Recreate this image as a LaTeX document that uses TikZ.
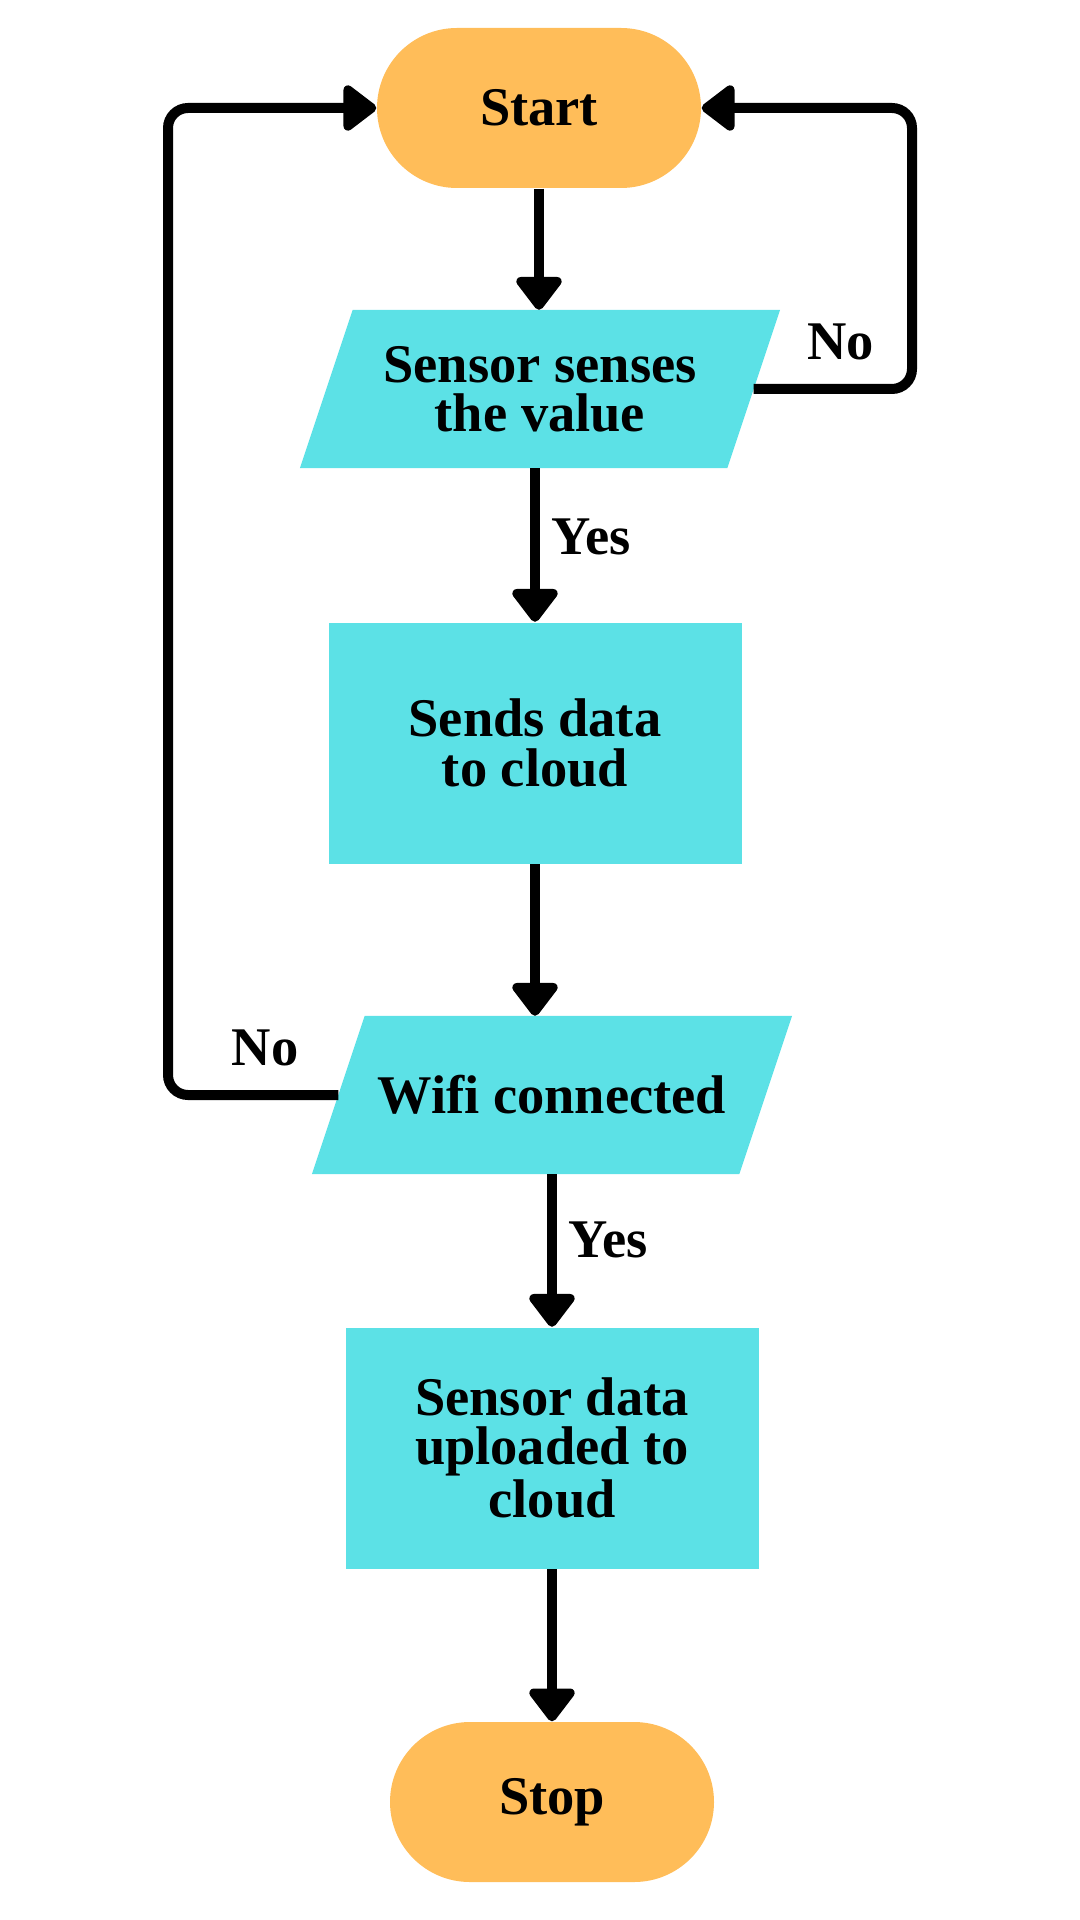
\documentclass[tikz,border=0pt]{standalone}
\usepackage{fontspec}
\setmainfont{Liberation Serif}
\usetikzlibrary{arrows.meta,backgrounds}
\definecolor{termorange}{HTML}{FFBD59}
\definecolor{boxcyan}{HTML}{5CE1E6}
\begin{document}
\begin{tikzpicture}[font=\bfseries\fontsize{15.5}{14}\selectfont]
			\tikzstyle{term} = [fill=termorange, rounded corners=0.8cm, minimum width=3.24cm, minimum height=1.6cm]
			\tikzstyle{io} = [shape=rectangle, minimum width=4.26cm, minimum height=1.57cm, align=center]
			\tikzstyle{r} = [fill=boxcyan, shape=rectangle, minimum width=4.13cm, minimum height=2.41cm, align=center]
			\tikzstyle{flow} = [line width=0.1cm, -{Triangle[width=0.52cm, length=0.36cm, round]}]
			\useasboundingbox (0,0) rectangle (10.8,-19.2);
			\node[term] (start) at (5.39,-1.08) {Start};
			\node[io] (sense) at (5.40,-3.89) {Sensor senses\\the value};
			\node[r] (send) at (5.35,-7.43) {Sends data\\to cloud};
			\node[io] (wifi) at (5.52,-10.95) {Wifi connected};
			\node[r] (upload) at (5.52,-14.48) {Sensor data\\uploaded to\\cloud};
			\node[term] (stop) at (5.52,-18.02) {Stop};
			\begin{scope}[on background layer]
				\foreach \n in {sense,wifi}
					\fill[boxcyan] ([xshift=0.264cm]\n.north west) -- ([xshift=0.264cm]\n.north east) -- ([xshift=-0.264cm]\n.south east) -- ([xshift=-0.264cm]\n.south west) -- cycle;
			\end{scope}
			\coordinate (rloop) at (9.12,-3.89);
			\coordinate (lloop) at (1.68,-10.95);
			\draw[flow] (start.south) -- (start.south |- sense.north);
			\draw[flow] (sense.south -| send.north) -- node[right, pos=0.45] {Yes} (send.north);
			\draw[flow] (send.south) -- (send.south |- wifi.north);
			\draw[flow] (wifi.south) -- node[right, pos=0.43] {Yes} (wifi.south |- upload.north);
			\draw[flow] (upload.south) -- (stop.north);
			\draw[flow, rounded corners=0.2cm] (sense.east) -- node[above=0.12cm, pos=0.55] {No} (rloop) |- (start.east);
			\draw[flow, rounded corners=0.2cm] (wifi.west) -- node[above=0.12cm, pos=0.43] {No} (lloop) |- (start.west);
\end{tikzpicture}
\end{document}
